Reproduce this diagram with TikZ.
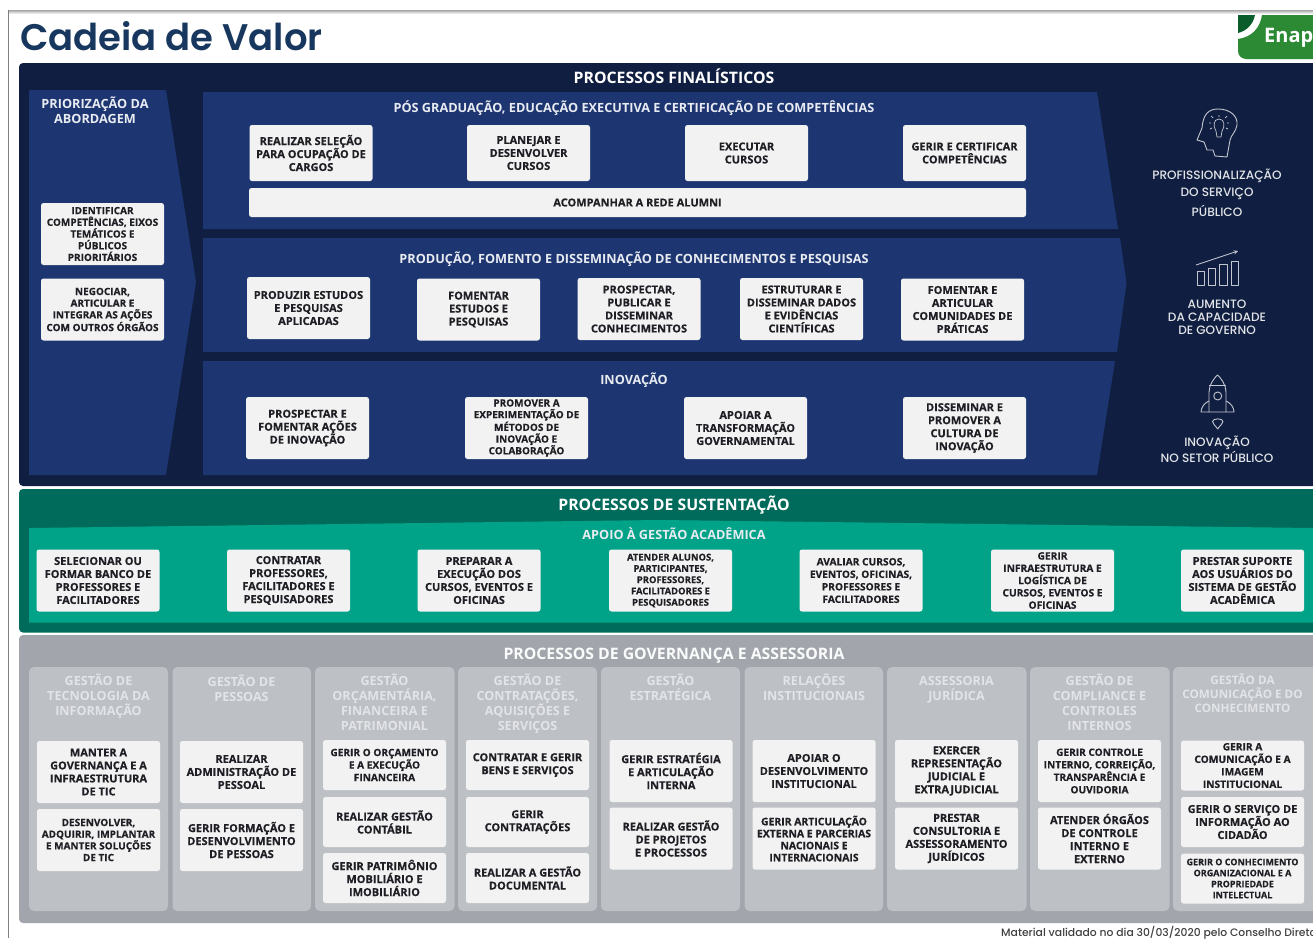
\documentclass[tikz,border=0pt]{standalone}
\usepackage{fontspec}
\setmainfont{Open Sans}
\newfontfamily\titlefont{Poppins Medium}
\newfontfamily\capafont{Poppins SemiBold}
\newfontfamily\boxfont{Open Sans}[BoldFeatures={FakeBold=0.35}]
\definecolor{navyout}{HTML}{101F41}
\definecolor{navyband}{HTML}{1D3570}
\definecolor{greenout}{HTML}{006B5A}
\definecolor{greenband}{HTML}{00A387}
\definecolor{grayout}{HTML}{A2A6AC}
\definecolor{grayband}{HTML}{BDC0C5}
\definecolor{boxfill}{HTML}{F2F2F2}
\definecolor{boxtext}{HTML}{1E1E24}
\definecolor{coltext}{HTML}{E2E4E7}
\definecolor{logolight}{HTML}{2C8A35}
\definecolor{logodark}{HTML}{0A5C2A}
\definecolor{titletext}{HTML}{17375E}
\tikzset{
  proc/.style={rectangle,rounded corners=2.5pt,fill=boxfill,text=boxtext,align=center,inner sep=0pt,
    minimum width=123pt,minimum height=62pt,font=\boxfont\fontsize{11}{13}\selectfont\bfseries},
  procsm/.style={proc,font=\boxfont\fontsize{10}{11.7}\selectfont\bfseries},
  proctw/.style={proc,minimum height=50pt},
  headbig/.style={text=white,align=center,inner sep=0pt,font=\fontsize{15.8}{18}\selectfont\bfseries},
  headsub/.style={text=white!90!navyband,align=center,inner sep=0pt,font=\fontsize{12.7}{15}\selectfont\bfseries},
  colhead/.style={text=coltext,align=center,inner sep=0pt,font=\fontsize{12.6}{15}\selectfont\bfseries},
  goal/.style={text=coltext,align=center,inner sep=0pt,font=\titlefont\fontsize{12.1}{13}\selectfont},
  icon/.style={draw=coltext!85!navyout,line width=.9pt,line join=round}
}
\begin{document}
\begin{tikzpicture}[x=1pt,y=-1pt]
\useasboundingbox (0,0) rectangle (1313,938);
\clip (0,0) rectangle (1313,938);
\fill[white] (0,0) rectangle (1313,938);
\shade[top color=gray!70,bottom color=white] (8,10) rectangle (1313,14);
\draw[gray] (8,10) -- (8,938);
\node[anchor=west,inner sep=0pt,text=titletext,font=\capafont\fontsize{37}{42}\selectfont] at (20,36) (title) {Cadeia de Valor};
% logo
\fill[logolight] (1262,15) -- (1313,15) -- (1313,59) -- (1246,59) arc(90:180:8) -- (1238,39) .. controls (1252,37) and (1260,28) .. (1262,15) -- cycle;
\fill[logodark] (1238,15) -- (1255,15) .. controls (1253,25) and (1246,31) .. (1238,33) -- cycle;
\node[anchor=west,inner sep=0pt,text=white,font=\fontsize{20}{22}\selectfont\bfseries] at (1264,38) (enap) {Enap};
% finalisticos
\fill[navyout,rounded corners=4pt] (19,63) rectangle (1330,486);
\fill[navyband] (29,90) -- (166,90) -- (196,282) -- (166,475) -- (29,475) -- cycle;
\fill[navyband] (203,92) -- (1097,92) -- (1118,229) -- (203,229) -- cycle;
\fill[navyband] (203,238) -- (1120,238) -- (1126.5,283) -- (1117,352) -- (203,352) -- cycle;
\fill[navyband] (203,361) -- (1115,361) -- (1097,475) -- (203,475) -- cycle;
\node[headbig] at (674,76) (fin) {PROCESSOS FINALÍSTICOS};
\node[headsub] at (95,110) (prio) {PRIORIZAÇÃO DA\\ABORDAGEM};
\node[headsub] at (634,108.5) (pos) {PÓS GRADUAÇÃO, EDUCAÇÃO EXECUTIVA E CERTIFICAÇÃO DE COMPETÊNCIAS};
\node[headsub] at (634,259) (pro) {PRODUÇÃO, FOMENTO E DISSEMINAÇÃO DE CONHECIMENTOS E PESQUISAS};
\node[headsub] at (634,380) (ino) {INOVAÇÃO};
\node[procsm] at (102.5,234) (ident) {IDENTIFICAR\\COMPETÊNCIAS, EIXOS\\TEMÁTICOS E\\PÚBLICOS\\PRIORITÁRIOS};
\node[procsm] at (102.5,309.5) (nego) {NEGOCIAR,\\ARTICULAR E\\INTEGRAR AS AÇÕES\\COM OUTROS ÓRGÃOS};
\node[proc,minimum height=56pt] at (311,153) (sele) {REALIZAR SELEÇÃO\\PARA OCUPAÇÃO DE\\CARGOS};
\node[proc,minimum height=56pt] at (528.5,153) (plan) {PLANEJAR E\\DESENVOLVER\\CURSOS};
\node[proc,minimum height=56pt] at (746.5,153) (exec) {EXECUTAR\\CURSOS};
\node[proc,minimum height=56pt] at (964.5,153) (cert) {GERIR E CERTIFICAR\\COMPETÊNCIAS};
\node[proc,minimum width=777pt,minimum height=29pt] at (637.5,202.5) (alum) {ACOMPANHAR A REDE ALUMNI};
\node[proc] at (308.5,308) (estu) {PRODUZIR ESTUDOS\\E PESQUISAS\\APLICADAS};
\node[proc] at (478.5,309.5) (fome) {FOMENTAR\\ESTUDOS E\\PESQUISAS};
\node[proc] at (639,309) (publ) {PROSPECTAR,\\PUBLICAR E\\DISSEMINAR\\CONHECIMENTOS};
\node[proc] at (801.5,309) (dado) {ESTRUTURAR E\\DISSEMINAR DADOS\\E EVIDÊNCIAS\\CIENTÍFICAS};
\node[proc] at (962.5,309.5) (comu) {FOMENTAR  E\\ARTICULAR\\COMUNIDADES DE\\PRÁTICAS};
\node[proc] at (307.5,428) (acoe) {PROSPECTAR E\\FOMENTAR AÇÕES\\DE INOVAÇÃO};
\node[procsm] at (526.5,428) (expe) {PROMOVER A\\EXPERIMENTAÇÃO DE\\MÉTODOS DE\\INOVAÇÃO E\\COLABORAÇÃO};
\node[proc] at (745.5,428) (tran) {APOIAR A\\TRANSFORMAÇÃO\\GOVERNAMENTAL};
\node[proc] at (964.5,428) (cult) {DISSEMINAR E\\PROMOVER A\\CULTURA DE\\INOVAÇÃO};
% icones
\draw[icon] (1227,157) -- (1215,156) -- (1213,150) -- (1207,150) -- (1204,142) -- (1197,140) -- (1202,128) .. controls (1203,115) and (1208,109) .. (1218,109) .. controls (1230,109) and (1238,116) .. (1237,125) .. controls (1236,132) and (1231,135) .. (1230,140) -- cycle;
\draw[icon,line width=.7pt] (1216,131) .. controls (1213,127) and (1213,119) .. (1219,119) .. controls (1225,119) and (1225,127) .. (1222,131) -- (1221,137) -- (1217,137) -- cycle;
\draw[icon,line width=.7pt] (1219,117) -- (1219,115) (1211,123) -- (1209,123) (1227,123) -- (1229,123) (1213,118) -- (1211,116) (1225,118) -- (1227,116) (1212,128) -- (1210,129) (1226,128) -- (1228,129);
\node[goal] at (1217,192.5) (prof) {PROFISSIONALIZAÇÃO\\[4pt]DO SERVIÇO\\[4pt]PÚBLICO};
\draw[icon] (1197,271) rectangle (1204,285);
\draw[icon] (1208,268) rectangle (1215,285);
\draw[icon] (1219,264) rectangle (1227,285);
\draw[icon] (1231,261) rectangle (1238,285);
\draw[icon,->,>=stealth] (1196,265) -- (1238,251);
\node[goal] at (1217,317) (capa) {AUMENTO\\DA CAPACIDADE\\DE GOVERNO};
\draw[icon] (1209,412) -- (1209,392) .. controls (1209,385) and (1214,378) .. (1217.5,375) .. controls (1221,378) and (1226,385) .. (1226,392) -- (1226,412) -- cycle;
\draw[icon] (1209,385) -- (1226,385);
\draw[icon] (1217.7,396) circle (4);
\draw[icon] (1209,401) .. controls (1204,403) and (1201,408) .. (1201,412) -- (1209,412);
\draw[icon] (1226,401) .. controls (1231,403) and (1234,408) .. (1234,412) -- (1226,412);
\draw[icon] (1217.7,429) .. controls (1215,425) and (1212.5,424) .. (1212.5,421.5) .. controls (1212.5,418) and (1223,418) .. (1223,421.5) .. controls (1223,424) and (1220,425) .. (1217.7,429) -- cycle;
\node[goal] at (1217,449.5) (inov) {INOVAÇÃO\\NO SETOR PÚBLICO};
% sustentacao
\fill[greenout,rounded corners=4pt] (19,489) rectangle (1330,632.5);
\fill[greenband] (29,528) -- (660,520) -- (1313,528) -- (1313,622.5) -- (29,622.5) -- cycle;
\node[headbig] at (674,505) (sus) {PROCESSOS DE SUSTENTAÇÃO};
\node[headsub] at (674,534) (apo) {APOIO À GESTÃO ACADÊMICA};
\node[proc] at (98,580.5) (banc) {SELECIONAR OU\\FORMAR BANCO DE\\PROFESSORES E\\FACILITADORES};
\node[proc] at (288.5,580.5) (cont) {CONTRATAR\\PROFESSORES,\\FACILITADORES E\\PESQUISADORES};
\node[proc] at (479,580.5) (prep) {PREPARAR A\\EXECUÇÃO DOS\\CURSOS, EVENTOS E\\OFICINAS};
\node[procsm,font=\boxfont\fontsize{9.4}{11.3}\selectfont\bfseries] at (670.5,580.5) (aten) {ATENDER ALUNOS,\\PARTICIPANTES,\\PROFESSORES,\\FACILITADORES E\\PESQUISADORES};
\node[procsm,font=\boxfont\fontsize{10.2}{12.5}\selectfont\bfseries] at (861,580.5) (aval) {AVALIAR CURSOS,\\EVENTOS, OFICINAS,\\PROFESSORES E\\FACILITADORES};
\node[procsm,font=\boxfont\fontsize{10.2}{12.3}\selectfont\bfseries] at (1052.5,580.5) (infr) {GERIR\\INFRAESTRUTURA E\\LOGÍSTICA DE\\CURSOS, EVENTOS E\\OFICINAS};
\node[proc] at (1242.5,580.5) (supo) {PRESTAR SUPORTE\\AOS USUÁRIOS DO\\SISTEMA DE GESTÃO\\ACADÊMICA};
% governanca
\fill[grayout,rounded corners=4pt] (19,635) rectangle (1330,923);
\node[headbig,text=white!95!grayout] at (674,656) (gov) {PROCESSOS DE GOVERNANÇA E ASSESSORIA};
\fill[grayband,rounded corners=5pt] (29,667) rectangle (168,911);
\fill[grayband,rounded corners=5pt] (172.5,667) rectangle (311,911);
\fill[grayband,rounded corners=5pt] (315,667) rectangle (454.5,911);
\fill[grayband,rounded corners=5pt] (458,667) rectangle (597,911);
\fill[grayband,rounded corners=5pt] (601,667) rectangle (740,911);
\fill[grayband,rounded corners=5pt] (744.5,667) rectangle (883,911);
\fill[grayband,rounded corners=5pt] (887,667) rectangle (1026.5,911);
\fill[grayband,rounded corners=5pt] (1030,667) rectangle (1169.5,911);
\fill[grayband,rounded corners=5pt] (1173,667) rectangle (1325,911);
\node[colhead] at (98.5,696) (ctic) {GESTÃO DE\\TECNOLOGIA DA\\INFORMAÇÃO};
\node[colhead] at (241.5,688.5) (cpes) {GESTÃO DE\\PESSOAS};
\node[colhead] at (384.5,702) (corc) {GESTÃO\\ORÇAMENTÁRIA,\\FINANCEIRA E\\PATRIMONIAL};
\node[colhead] at (527.5,704) (ccon) {GESTÃO DE\\CONTRATAÇÕES,\\AQUISIÇÕES E\\SERVIÇOS};
\node[colhead] at (670.5,687.5) (cest) {GESTÃO\\ESTRATÉGICA};
\node[colhead] at (814,687.5) (crel) {RELAÇÕES\\INSTITUCIONAIS};
\node[colhead] at (956.5,689.5) (cjur) {ASSESSORIA\\JURÍDICA};
\node[colhead] at (1099.5,702) (ccom) {GESTÃO DE\\COMPLIANCE E\\CONTROLES\\INTERNOS};
\node[colhead,font=\fontsize{11.7}{14}\selectfont\bfseries] at (1242.5,693) (cdac) {GESTÃO DA\\COMUNICAÇÃO E DO\\CONHECIMENTO};
\node[proc] at (98.5,772) (mant) {MANTER A\\GOVERNANÇA E A\\INFRAESTRUTURA\\DE TIC};
\node[procsm] at (98.5,840) (dese) {DESENVOLVER,\\ADQUIRIR, IMPLANTAR\\E MANTER SOLUÇÕES\\DE TIC};
\node[proc] at (241.5,772) (admi) {REALIZAR\\ADMINISTRAÇÃO DE\\PESSOAL};
\node[proc] at (241.5,840) (form) {GERIR FORMAÇÃO E\\DESENVOLVIMENTO\\DE PESSOAS};
\node[proctw,font=\boxfont\fontsize{10.1}{12.5}\selectfont\bfseries] at (384.5,765) (orca) {GERIR O ORÇAMENTO\\E A EXECUÇÃO\\FINANCEIRA};
\node[proctw] at (384.5,822) (cotb) {REALIZAR GESTÃO\\CONTÁBIL};
\node[proctw] at (384.5,878) (patr) {GERIR PATRIMÔNIO\\MOBILIÁRIO E\\IMOBILIÁRIO};
\node[proctw] at (527.5,765) (bens) {CONTRATAR E GERIR\\BENS E SERVIÇOS};
\node[proctw] at (527.5,822) (ctrt) {GERIR\\CONTRATAÇÕES};
\node[proctw] at (527.5,878) (docu) {REALIZAR A GESTÃO\\DOCUMENTAL};
\node[proc] at (671,771) (estr) {GERIR ESTRATÉGIA\\E ARTICULAÇÃO\\INTERNA};
\node[proc] at (671,838.5) (proj) {REALIZAR GESTÃO\\DE PROJETOS\\E PROCESSOS};
\node[proc] at (814,771) (inst) {APOIAR O\\DESENVOLVIMENTO\\INSTITUCIONAL};
\node[procsm,font=\boxfont\fontsize{10.4}{12}\selectfont\bfseries] at (814,838.5) (arti) {GERIR ARTICULAÇÃO\\EXTERNA E PARCERIAS\\NACIONAIS E\\INTERNACIONAIS};
\node[proc] at (956.5,771) (repr) {EXERCER\\REPRESENTAÇÃO\\JUDICIAL E\\EXTRAJUDICIAL};
\node[proc] at (956.5,838.5) (cons) {PRESTAR\\CONSULTORIA E\\ASSESSORAMENTO\\JURÍDICOS};
\node[procsm,font=\boxfont\fontsize{10.1}{12.5}\selectfont\bfseries] at (1099.5,771) (ctrl) {GERIR CONTROLE\\INTERNO, CORREIÇÃO,\\TRANSPARÊNCIA E\\OUVIDORIA};
\node[proc] at (1099.5,838.5) (orga) {ATENDER ÓRGÃOS\\DE CONTROLE\\INTERNO E\\EXTERNO};
\node[proctw,font=\boxfont\fontsize{10.2}{12.5}\selectfont\bfseries] at (1242.5,765.5) (imag) {GERIR A\\COMUNICAÇÃO E A\\IMAGEM\\INSTITUCIONAL};
\node[proctw] at (1242.5,822) (cida) {GERIR O SERVIÇO DE\\INFORMAÇÃO AO\\CIDADÃO};
\node[proctw,font=\boxfont\fontsize{9}{11}\selectfont\bfseries] at (1242.5,878.5) (conh) {GERIR O CONHECIMENTO\\ORGANIZACIONAL E A\\PROPRIEDADE\\INTELECTUAL};
\node[anchor=west,inner sep=0pt,text=black!75,font=\titlefont\fontsize{10.8}{12}\selectfont] at (1001,933) (rodape) {Material validado no dia 30/03/2020 pelo Conselho Diretor};
\end{tikzpicture}
\end{document}
